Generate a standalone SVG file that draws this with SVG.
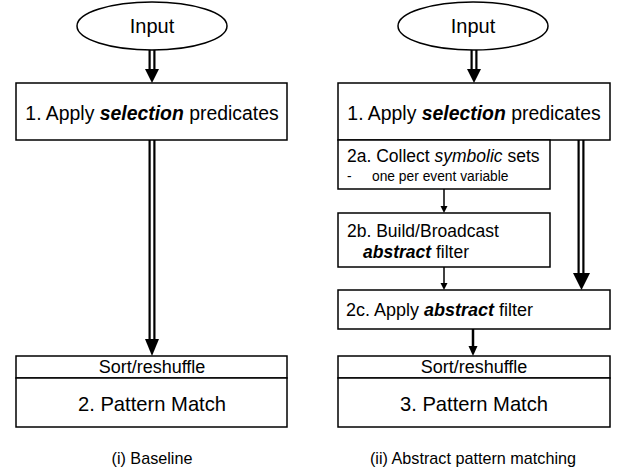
<svg xmlns="http://www.w3.org/2000/svg" width="618" height="474" viewBox="0 0 618 474">
<style>
.box{fill:#fff;stroke:#000;stroke-width:1.5}
.t{font-family:"Liberation Sans",Arial,sans-serif;fill:#000}
.outer{stroke:#000;stroke-width:7;fill:none}
.inner{stroke:#fff;stroke-width:2.6;fill:none}
.head{fill:#000}
</style>
<rect width="618" height="474" fill="#fff"/>
<g id="connectors">
  <line class="outer" x1="152" y1="50" x2="152" y2="72"/>
  <line class="inner" x1="152" y1="50" x2="152" y2="74"/>
  <polygon class="head" points="145,69 159,69 152,83"/>
  <line class="outer" x1="152" y1="140" x2="152" y2="341"/>
  <line class="inner" x1="152" y1="140" x2="152" y2="343"/>
  <polygon class="head" points="145,339 159,339 152,356"/>
  <line class="outer" x1="474" y1="50" x2="474" y2="72"/>
  <line class="inner" x1="474" y1="50" x2="474" y2="74"/>
  <polygon class="head" points="467,69 481,69 474,83"/>
  <line class="outer" x1="581" y1="140" x2="581" y2="276"/>
  <line class="inner" x1="581" y1="140" x2="581" y2="278"/>
  <polygon class="head" points="573,273 590,273 581.5,290"/>
  <line x1="444" y1="189" x2="444" y2="207" stroke="#000" stroke-width="1.5"/>
  <polygon class="head" points="440.5,206 447.5,206 444,213"/>
  <line x1="444" y1="267" x2="444" y2="284" stroke="#000" stroke-width="1.5"/>
  <polygon class="head" points="440.5,283 447.5,283 444,290"/>
  <line x1="473" y1="329" x2="473" y2="348" stroke="#000" stroke-width="2.5"/>
  <polygon class="head" points="468.5,346 477.5,346 473,356"/>
</g>
<g id="input-left">
  <ellipse cx="152" cy="26" rx="75" ry="24" class="box"/>
  <text class="t" x="152" y="33" font-size="20" text-anchor="middle">Input</text>
</g>
<g id="select-left">
  <rect class="box" x="16" y="83" width="271" height="57"/>
  <text class="t" x="152" y="120" font-size="19.4" text-anchor="middle">1. Apply <tspan font-weight="bold" font-style="italic">selection</tspan> predicates</text>
</g>
<g id="sort-left">
  <rect class="box" x="16" y="356" width="271" height="22"/>
  <text class="t" x="152" y="373" font-size="18" text-anchor="middle">Sort/reshuffle</text>
</g>
<g id="match-left">
  <rect class="box" x="16" y="378" width="271" height="49"/>
  <text class="t" x="152" y="411" font-size="20.2" text-anchor="middle">2. Pattern Match</text>
</g>
<g id="caption-left">
  <text class="t" x="152" y="464" font-size="16.2" text-anchor="middle">(i) Baseline</text>
</g>
<g id="input-right">
  <ellipse cx="473" cy="26" rx="75" ry="24" class="box"/>
  <text class="t" x="473" y="33" font-size="20" text-anchor="middle">Input</text>
</g>
<g id="select-right">
  <rect class="box" x="338" y="83" width="272" height="57"/>
  <text class="t" x="474" y="120" font-size="19.4" text-anchor="middle">1. Apply <tspan font-weight="bold" font-style="italic">selection</tspan> predicates</text>
</g>
<g id="collect">
  <rect class="box" x="338" y="140" width="212" height="49"/>
  <text class="t" x="347" y="162" font-size="17.5">2a. Collect <tspan font-style="italic">symbolic</tspan> sets</text>
  <text class="t" x="347" y="181" font-size="13.8">-</text>
  <text class="t" x="372" y="181" font-size="13.8">one per event variable</text>
</g>
<g id="build">
  <rect class="box" x="338" y="213" width="212" height="54"/>
  <text class="t" x="347" y="237" font-size="17.5">2b. Build/Broadcast</text>
  <text class="t" x="363" y="258" font-size="17.5"><tspan font-weight="bold" font-style="italic">abstract</tspan> filter</text>
</g>
<g id="apply-filter">
  <rect class="box" x="338" y="290" width="272" height="39"/>
  <text class="t" x="346" y="316" font-size="18">2c. Apply <tspan font-weight="bold" font-style="italic">abstract</tspan> filter</text>
</g>
<g id="sort-right">
  <rect class="box" x="338" y="356" width="272" height="22"/>
  <text class="t" x="474" y="373" font-size="18" text-anchor="middle">Sort/reshuffle</text>
</g>
<g id="match-right">
  <rect class="box" x="338" y="378" width="272" height="49"/>
  <text class="t" x="474" y="411" font-size="20.2" text-anchor="middle">3. Pattern Match</text>
</g>
<g id="caption-right">
  <text class="t" x="473" y="464" font-size="16.2" text-anchor="middle">(ii) Abstract pattern matching</text>
</g>
</svg>
